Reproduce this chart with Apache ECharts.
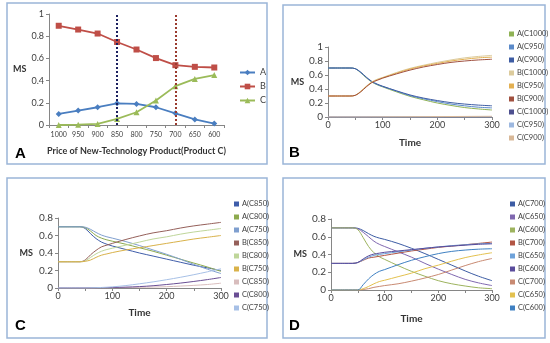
<!DOCTYPE html>
<html><head><meta charset="utf-8">
<script src="https://cdn.jsdelivr.net/npm/echarts@6/dist/echarts.min.js"></script>
<style>html,body{margin:0;padding:0;background:#fff}#c{width:550px;height:343px}</style>
</head><body><div id="c"></div>
<script>
// ---------- Panel A: final market shares vs price of product C ----------
const priceCats = ['1000','950','900','850','800','750','700','650','600'];
const shareA = [0.10, 0.13, 0.16, 0.195, 0.19, 0.16, 0.105, 0.05, 0.013];
const shareB = [0.894, 0.86, 0.824, 0.748, 0.68, 0.603, 0.539, 0.524, 0.518];
const shareC = [0.0, 0.003, 0.01, 0.055, 0.115, 0.22, 0.35, 0.415, 0.45];
const markPrices = ['850', '700'];

// ---------- time samples shared by panels B, C, D ----------
const times = [0, 25, 40, 50, 60, 70, 80, 90, 100, 125, 150, 175, 200, 225, 250, 275, 300];

// ---------- Panel B (C price 1000 / 950 / 900) ----------
const bA1000 = [.7,.7,.7,.69,.63,.56,.50,.46,.43,.36,.295,.245,.20,.165,.135,.115,.10];
const bA950  = [.7,.7,.7,.69,.635,.565,.505,.465,.435,.37,.305,.26,.22,.185,.16,.14,.13];
const bA900  = [.7,.7,.7,.69,.64,.57,.51,.47,.44,.375,.315,.27,.235,.205,.185,.17,.16];
const bB1000 = [.3,.3,.3,.31,.37,.44,.50,.54,.565,.635,.695,.74,.78,.815,.845,.865,.88];
const bB950  = [.3,.3,.3,.31,.365,.435,.495,.53,.56,.625,.685,.73,.765,.80,.825,.845,.855];
const bB900  = [.3,.3,.3,.31,.36,.43,.49,.525,.555,.615,.67,.715,.75,.78,.80,.815,.825];
const bC1000 = [0,0,0,0,0,0,0,0,0,0,0,0,0,0,0,0,0];
const bC950  = [0,0,0,0,0,0,0,0,.001,.001,.002,.002,.002,.003,.003,.003,.003];
const bC900  = [0,0,0,0,0,0,.001,.001,.002,.003,.004,.005,.006,.007,.008,.009,.01];

// ---------- Panel C (C price 850 / 800 / 750) ----------
const cA850 = [.7,.7,.7,.68,.62,.565,.525,.50,.48,.44,.40,.365,.33,.295,.26,.23,.20];
const cA800 = [.7,.7,.7,.69,.65,.60,.57,.55,.535,.50,.46,.42,.375,.33,.285,.24,.19];
const cA750 = [.7,.7,.7,.695,.67,.635,.605,.585,.57,.53,.485,.435,.385,.33,.27,.215,.165];
const cB850 = [.3,.3,.3,.32,.38,.43,.47,.49,.51,.555,.595,.63,.655,.685,.71,.73,.75];
const cB800 = [.3,.3,.3,.31,.35,.39,.42,.44,.455,.49,.525,.56,.585,.615,.64,.66,.68];
const cB750 = [.3,.3,.3,.305,.32,.35,.375,.39,.405,.435,.46,.485,.51,.535,.56,.58,.60];
const cC850 = [0,0,0,0,0,.001,.002,.003,.004,.006,.008,.011,.015,.022,.03,.04,.055];
const cC800 = [0,0,0,0,.001,.002,.003,.004,.006,.01,.016,.026,.04,.056,.075,.096,.12];
const cC750 = [0,0,0,0,.002,.004,.006,.009,.013,.028,.048,.07,.095,.122,.152,.185,.22];

// ---------- Panel D (C price 700 / 650 / 600) ----------
const dA700 = [.7,.7,.7,.695,.67,.635,.605,.585,.57,.525,.47,.41,.345,.28,.215,.155,.105];
const dA650 = [.7,.7,.7,.69,.65,.60,.55,.515,.49,.43,.37,.30,.235,.175,.12,.08,.05];
const dA600 = [.7,.7,.7,.68,.59,.49,.42,.375,.345,.275,.21,.155,.105,.07,.045,.025,.015];
const dB700 = [.3,.3,.3,.31,.335,.36,.37,.38,.39,.415,.44,.46,.48,.495,.51,.525,.54];
const dB650 = [.3,.3,.3,.31,.34,.37,.39,.40,.41,.43,.45,.47,.485,.50,.51,.52,.525];
const dB600 = [.3,.3,.3,.31,.35,.385,.405,.415,.425,.44,.455,.47,.485,.495,.505,.515,.52];
const dC700 = [0,0,0,0,.005,.015,.03,.04,.05,.07,.10,.135,.175,.225,.275,.32,.355];
const dC650 = [0,0,0,0,.015,.04,.07,.095,.11,.15,.19,.24,.28,.325,.365,.395,.42];
const dC600 = [0,0,0,0,.06,.125,.175,.21,.23,.285,.335,.375,.41,.435,.45,.46,.465];

const panelB = [
  ['A(C1000)', bA1000, '#8FB255'], ['A(C950)', bA950, '#5B8AC9'], ['A(C900)', bA900, '#3D5CA3'],
  ['B(C1000)', bB1000, '#DCCB9C'], ['B(C950)', bB950, '#E3B052'], ['B(C900)', bB900, '#A0503F'],
  ['C(C1000)', bC1000, '#4D4F8F'], ['C(C950)', bC950, '#9DB8E0'], ['C(C900)', bC900, '#D8B898']
];
const panelC = [
  ['A(C850)', cA850, '#3F5DAA'], ['A(C800)', cA800, '#8DAA4E'], ['A(C750)', cA750, '#7F9FCF'],
  ['B(C850)', cB850, '#95605A'], ['B(C800)', cB800, '#BFD69A'], ['B(C750)', cB750, '#D9B24A'],
  ['C(C850)', cC850, '#D8BDBD'], ['C(C800)', cC800, '#6A4E94'], ['C(C750)', cC750, '#A7C0E6']
];
const panelD = [
  ['A(C700)', dA700, '#3C5CA4'], ['A(C650)', dA650, '#8068B0'], ['A(C600)', dA600, '#9DB35E'],
  ['B(C700)', dB700, '#B25544'], ['B(C650)', dB650, '#6EA2DA'], ['B(C600)', dB600, '#5A4C9C'],
  ['C(C700)', dC700, '#C88A72'], ['C(C650)', dC650, '#E3C14F'], ['C(C600)', dC600, '#3F80C2']
];

const FONT = 'Lato';
const TXT = '#404040';
const AXC = '#868686';

function timeX(gi, gap) {
  return {
    type: 'value', gridIndex: gi, min: 0, max: 300, interval: 50,
    name: 'Time', nameLocation: 'middle', nameGap: gap,
    nameTextStyle: { fontFamily: FONT, fontWeight: 'bold', fontSize: 10, color: '#333' },
    axisLine: { lineStyle: { color: AXC } },
    axisTick: { show: true, length: 3, lineStyle: { color: AXC } },
    axisLabel: { fontFamily: FONT, fontSize: 9, color: TXT, margin: 4,
      formatter: v => (v % 100 === 0 ? String(v) : '') },
    splitLine: { show: false }
  };
}
function msY(gi, max, gap) {
  return {
    type: 'value', gridIndex: gi, min: 0, max: max, interval: 0.2,
    name: 'MS', nameLocation: 'middle', nameRotate: 0, nameGap: gap,
    nameTextStyle: { fontFamily: FONT, fontWeight: 'bold', fontSize: 9, color: '#333' },
    axisLine: { show: true, lineStyle: { color: AXC } },
    axisTick: { show: true, length: 3, lineStyle: { color: AXC } },
    axisLabel: { fontFamily: FONT, fontSize: 10, color: TXT, margin: 5 },
    splitLine: { show: false }
  };
}
function timeSeries(list, gi) {
  return list.map(([name, arr, color]) => ({
    name, type: 'line', xAxisIndex: gi, yAxisIndex: gi,
    data: times.map((t, i) => [t, arr[i]]),
    smooth: 0.35, showSymbol: false, symbol: 'none',
    lineStyle: { width: 1, color }, itemStyle: { color }
  }));
}
function smallLegend(list, left, top) {
  return {
    orient: 'vertical', left, top, itemWidth: 5, itemHeight: 5, itemGap: 5,
    icon: 'rect', data: list.map(s => s[0]),
    textStyle: { fontFamily: FONT, fontSize: 7.5, color: TXT, lineHeight: 8, padding: [0, 0, 0, -2] }
  };
}

const boxStyle = { fill: 'none', stroke: '#9BB5D8', lineWidth: 1.5 };
const letterStyle = (t, x, y) => ({ type: 'text', left: x, top: y,
  style: { text: t, font: 'bold 15px "Liberation Sans"', fill: '#000' } });

const option = {
  animation: false,
  backgroundColor: '#fff',
  graphic: [
    { type: 'rect', shape: { x: 7, y: 3, width: 260, height: 161 }, style: boxStyle, silent: true },
    { type: 'rect', shape: { x: 283, y: 5, width: 262, height: 159 }, style: boxStyle, silent: true },
    { type: 'rect', shape: { x: 7, y: 178, width: 260, height: 160 }, style: boxStyle, silent: true },
    { type: 'rect', shape: { x: 283, y: 178, width: 262, height: 160 }, style: boxStyle, silent: true },
    letterStyle('A', 15, 146),
    letterStyle('B', 289, 145),
    letterStyle('C', 15, 318),
    letterStyle('D', 289, 318)
  ],
  legend: [
    { orient: 'vertical', left: 234, top: 63, itemWidth: 15, itemHeight: 7, itemGap: 5,
      data: ['A', 'B', 'C'],
      textStyle: { fontFamily: FONT, fontSize: 9, color: TXT } },
    smallLegend(panelB, 504, 25),
    smallLegend(panelC, 229, 195),
    smallLegend(panelD, 505, 195)
  ],
  grid: [
    { left: 49, top: 14, width: 175, height: 111 },
    { left: 328, top: 47, width: 164, height: 70 },
    { left: 58, top: 218, width: 163, height: 70 },
    { left: 331, top: 219, width: 161, height: 71 }
  ],
  xAxis: [
    { type: 'category', gridIndex: 0, data: priceCats, boundaryGap: true,
      name: 'Price of New-Technology Product(Product C)', nameLocation: 'middle', nameGap: 22,
      nameTextStyle: { fontFamily: FONT, fontWeight: 'bold', fontSize: 9, color: '#333' },
      axisLine: { lineStyle: { color: AXC } },
      axisTick: { show: true, length: 3, lineStyle: { color: AXC } },
      axisLabel: { fontFamily: FONT, fontSize: 7, color: TXT, margin: 6, interval: 0 } },
    timeX(1, 21), timeX(2, 20), timeX(3, 24)
  ],
  yAxis: [
    { type: 'value', gridIndex: 0, min: 0, max: 1, interval: 0.2,
      name: 'MS', nameLocation: 'middle', nameRotate: 0, nameGap: 20,
      nameTextStyle: { fontFamily: FONT, fontWeight: 'bold', fontSize: 9, color: '#333' },
      axisLine: { show: true, lineStyle: { color: AXC } },
      axisTick: { show: true, length: 3, lineStyle: { color: AXC } },
      axisLabel: { fontFamily: FONT, fontSize: 9, color: TXT, margin: 5 },
      splitLine: { show: false } },
    msY(1, 1, 16), msY(2, 0.8, 25), msY(3, 0.8, 24)
  ],
  series: [
    { name: 'A', type: 'line', xAxisIndex: 0, yAxisIndex: 0, data: shareA,
      symbol: 'diamond', symbolSize: 6, lineStyle: { width: 1.8, color: '#4A7EC0' },
      itemStyle: { color: '#4A7EC0' },
      markLine: { silent: true, symbol: 'none', label: { show: false },
        data: [
          { xAxis: markPrices[0], lineStyle: { color: '#1C2060', type: [2, 2], width: 2 } },
          { xAxis: markPrices[1], lineStyle: { color: '#9A3A2E', type: [2, 2], width: 2 } }
        ] } },
    { name: 'B', type: 'line', xAxisIndex: 0, yAxisIndex: 0, data: shareB,
      symbol: 'rect', symbolSize: 6, lineStyle: { width: 1.8, color: '#BF4E47' },
      itemStyle: { color: '#BF4E47' } },
    { name: 'C', type: 'line', xAxisIndex: 0, yAxisIndex: 0, data: shareC,
      symbol: 'triangle', symbolSize: 6, lineStyle: { width: 1.8, color: '#9BBB59' },
      itemStyle: { color: '#9BBB59' } },
    ...timeSeries(panelB, 1),
    ...timeSeries(panelC, 2),
    ...timeSeries(panelD, 3)
  ]
};

const chart = echarts.init(document.getElementById('c'), null, { renderer: 'canvas' });
chart.setOption(option);
</script>
</body></html>
